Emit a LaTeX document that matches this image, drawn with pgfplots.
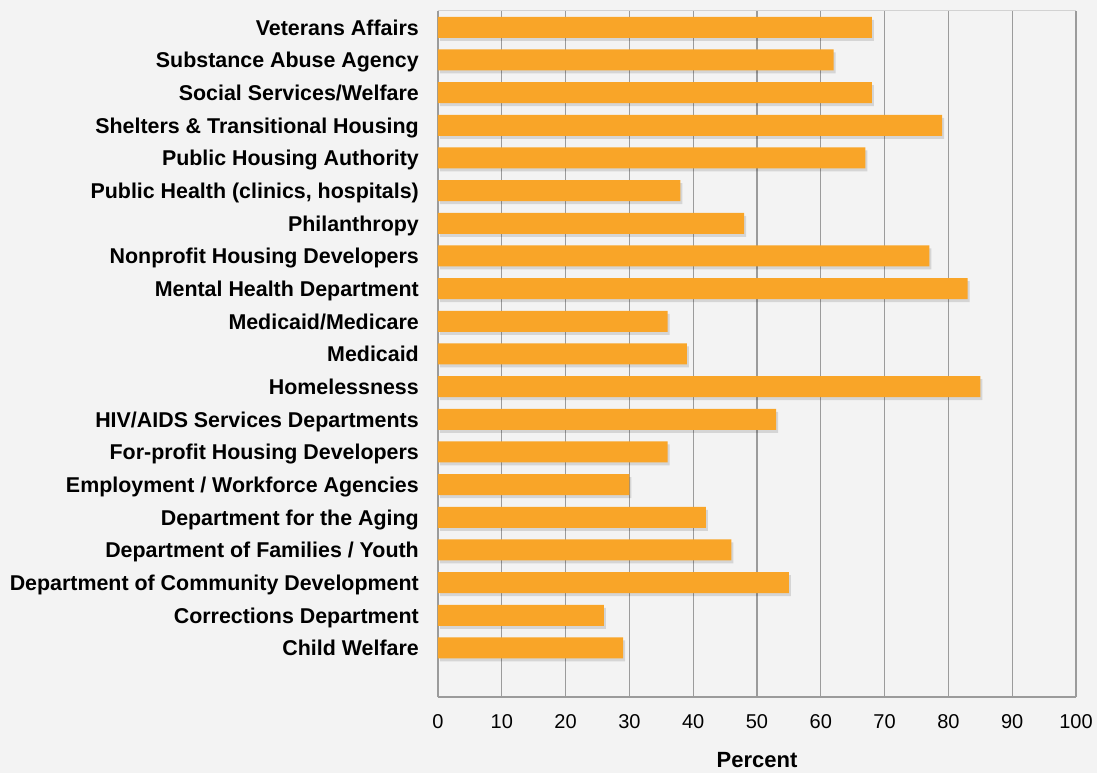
\documentclass[border=0pt]{standalone}
\usepackage{pgfplots}
\pgfplotsset{compat=1.18}
\usepackage{fontspec}
\setmainfont{Liberation Sans}
\definecolor{bg}{RGB}{243,243,243}
\definecolor{barc}{RGB}{249,165,40}
\definecolor{gridc}{RGB}{155,155,155}
\begin{document}
\begin{tikzpicture}
\fill[bg] (-438pt,-76pt) rectangle (659pt,697pt);
\begin{axis}[
  at={(0,0)}, anchor=south west,
  scale only axis,
  width=638pt, height=686pt,
  xbar, bar width=21pt,
  xmin=0, xmax=100, ymin=-0.5, ymax=20.5,
  xtick={0,10,...,100},
  ytick={1,...,20},
  yticklabels={Child Welfare,Corrections Department,Department of Community Development,Department of Families / Youth,Department for the Aging,Employment / Workforce Agencies,For-profit Housing Developers,HIV/AIDS Services Departments,Homelessness,Medicaid,Medicaid/Medicare,Mental Health Department,Nonprofit Housing Developers,Philanthropy,Public Health (clinics{,} hospitals),Public Housing Authority,Shelters \& Transitional Housing,Social Services/Welfare,Substance Abuse Agency,Veterans Affairs},
  major tick length=0pt,
  xmajorgrids,
  grid style={gridc, line width=1.3pt},
  axis x line*=bottom, axis y line*=left,
  axis line style={gridc, line width=1.3pt},
  separate axis lines,
  axis background/.style={fill=bg},
  /pgf/number format/assume math mode=true,
  yticklabel style={font=\fontsize{21.4}{24}\selectfont\bfseries, anchor=east, inner sep=0pt, text height=15.4pt, text depth=0pt, xshift=-19pt},
  xticklabel style={font=\fontsize{20}{24}\selectfont, anchor=north, inner sep=0pt, yshift=-17pt},
  xlabel={Percent},
  xlabel style={font=\fontsize{22}{26}\selectfont\bfseries, at={(axis description cs:0.5,0)}, anchor=center, yshift=-63pt},
  clip=false,
]
\addplot[draw=none, fill=black, fill opacity=0.12, bar shift=-3pt, xshift=2pt] coordinates {
(29,1) (26,2) (55,3) (46,4) (42,5) (30,6) (36,7) (53,8) (85,9) (39,10)
(36,11) (83,12) (77,13) (48,14) (38,15) (67,16) (79,17) (68,18) (62,19) (68,20)};
\addplot[draw=none, fill=barc, bar shift=0pt] coordinates {
(29,1) (26,2) (55,3) (46,4) (42,5) (30,6) (36,7) (53,8) (85,9) (39,10)
(36,11) (83,12) (77,13) (48,14) (38,15) (67,16) (79,17) (68,18) (62,19) (68,20)};
\draw[gray!35, line width=1pt] (rel axis cs:0,1) -- (rel axis cs:1,1);
\end{axis}
\end{tikzpicture}
\end{document}
